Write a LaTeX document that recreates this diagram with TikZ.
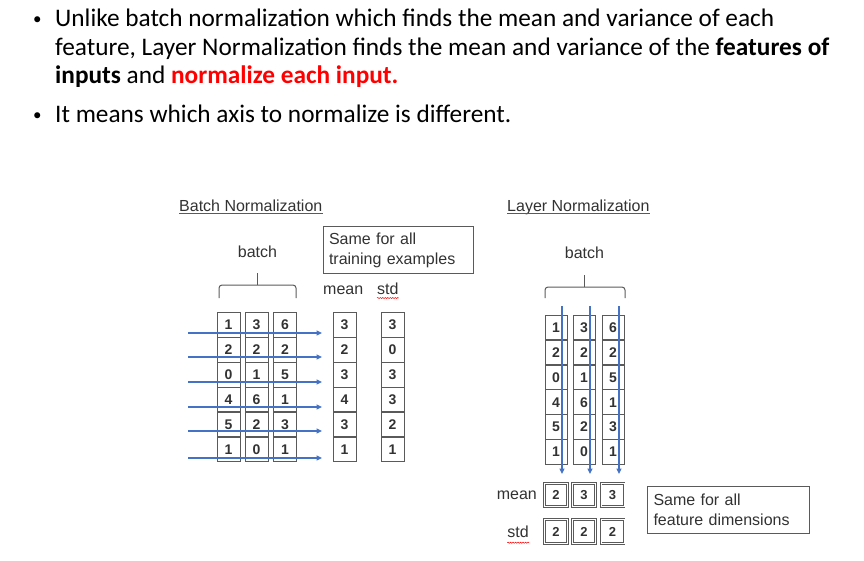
\documentclass[tikz,border=0pt]{standalone}
\usepackage{fontspec}
\setmainfont{Liberation Sans}
\newfontfamily\calib{Carlito}
\usetikzlibrary{arrows.meta,decorations.pathmorphing}
\definecolor{arrowblue}{RGB}{68,114,196}
\definecolor{txtgray}{RGB}{50,50,50}
\definecolor{boxgray}{RGB}{90,90,90}
\tikzset{
  bul/.style={anchor=base west,inner sep=0pt,font=\calib\fontsize{25.3}{30}\selectfont,text=black},
  dot/.style={anchor=base west,inner sep=0pt,font=\calib\fontsize{17}{20}\selectfont,text=black},
  lbl/.style={inner sep=0pt,font=\fontsize{16}{19}\selectfont,text=txtgray},
  cell/.style={draw=boxgray,line width=1pt,minimum width=23pt,minimum height=24.5pt,inner sep=0pt,font=\bfseries\fontsize{14}{16}\selectfont,text=txtgray},
  sbox/.style={draw=boxgray,line width=1pt,minimum width=23pt,minimum height=23.5pt,inner sep=0pt,font=\bfseries\fontsize{13}{15}\selectfont,text=txtgray,double distance=0.6pt},
  note/.style={draw=boxgray,line width=1pt,align=left,inner sep=0pt,anchor=north west,font=\fontsize{16}{20}\selectfont,text=txtgray},
  flow/.style={draw=arrowblue,line width=2pt,-{Triangle[length=5.5pt,width=5pt]}},
  brace/.style={draw=boxgray,line width=1pt,rounded corners=3pt},
  spell/.style={draw=red,line width=0.5pt,decorate,decoration={snake,amplitude=0.6pt,segment length=2.5pt}}
}
\begin{document}
\begin{tikzpicture}[x=1pt,y=-1pt]
\useasboundingbox (0,0) rectangle (864,560);
% bullets
\node[dot] (b1) at (33,24) {•};
\node[bul] (l1) at (55,26) {Unlike batch normalization which finds the mean and variance of each};
\node[bul] (l2) at (55,55) {feature, Layer Normalization finds the mean and variance of the \textbf{features of}};
\node[bul] (l3) at (55,83) {\textbf{inputs} and \textcolor{red}{\textbf{normalize each input.}}};
\node[dot] (b2) at (33,120) {•};
\node[bul] (l4) at (55,122) {It means which axis to normalize is different.};

% ---------- Batch Normalization ----------
\node[lbl,anchor=base west] (bnt) at (179,211) {Batch Normalization};
\draw[boxgray,line width=0.8pt] ([yshift=-2.5pt]bnt.base west) -- ([yshift=-2.5pt]bnt.base east);
\node[lbl] (bb) at (257.5,252) {batch};
\draw[brace] (219,298) -- (219,285) -- (257.5,285) -- (296,285) -- (296,298);
\draw[boxgray,line width=1pt] (257.5,285) -- (257.5,273);
\node[note,minimum width=150pt,minimum height=47pt,text width=138pt,inner xsep=6pt] (n1) at (322.5,226) {Same for all\\training examples};
\node[lbl,anchor=base west] (mn1) at (323,294) {mean};
\node[lbl,anchor=base west] (sd1) at (377,294) {std};
\draw[spell] ([yshift=-4pt]sd1.base west) -- ([yshift=-4pt]sd1.base east);

\foreach \r/\a/\b/\c/\m/\s [count=\i] in {1/1/3/6/3/3, 2/2/2/2/2/0, 3/0/1/5/3/3, 4/4/6/1/4/3, 5/5/2/3/3/2, 6/1/0/1/1/1} {
  \pgfmathsetmacro{\yy}{325+(\r-1)*24.9}
  \node[cell] (ba\r) at (228.5,\yy) {\a};
  \node[cell] (bb\r) at (256.5,\yy) {\b};
  \node[cell] (bc\r) at (285,\yy) {\c};
  \node[cell] (bm\r) at (344.5,\yy) {\m};
  \node[cell] (bs\r) at (392.5,\yy) {\s};
}
\foreach \r/\yy in {1/333,2/357,3/382,4/407,5/431,6/458} {
  \coordinate (hs\r) at (188,\yy);
  \coordinate (he\r) at (322,\yy);
  \draw[flow] (hs\r) -- (he\r);
}

% ---------- Layer Normalization ----------
\node[lbl,anchor=base west] (lnt) at (507,211) {Layer Normalization};
\draw[boxgray,line width=0.8pt] ([yshift=-2.5pt]lnt.base west) -- ([yshift=-2.5pt]lnt.base east);
\node[lbl] (lb) at (584.5,253) {batch};
\draw[brace] (545,298) -- (545,287) -- (584.5,287) -- (625,287) -- (625,298);
\draw[boxgray,line width=1pt] (584.5,287) -- (584.5,275);

\foreach \r/\a/\b/\c [count=\i] in {1/1/3/6, 2/2/2/2, 3/0/1/5, 4/4/6/1, 5/5/2/3, 6/1/0/1} {
  \pgfmathsetmacro{\yy}{327.5+(\r-1)*24.9}
  \node[cell,minimum width=22pt] (la\r) at (556,\yy) {\a};
  \node[cell,minimum width=22pt] (lb\r) at (584,\yy) {\b};
  \node[cell,minimum width=22pt] (lc\r) at (613,\yy) {\c};
}
\coordinate (vs1) at (562,306); \coordinate (ve1) at (562,474);
\coordinate (vs2) at (590,306); \coordinate (ve2) at (590,474);
\coordinate (vs3) at (619,306); \coordinate (ve3) at (619,474);
\foreach \k in {1,2,3} { \draw[flow] (vs\k) -- (ve\k); }

\node[sbox] (m1) at (556,495) {2};
\node[sbox] (m2) at (584,495) {3};
\node[sbox] (m3) at (612.5,495) {3};
\node[sbox] (s1) at (556,531.5) {2};
\node[sbox] (s2) at (584,531.5) {2};
\node[sbox] (s3) at (612.5,531.5) {2};
\node[lbl,anchor=east] (mn2) at (537,495) {mean};
\node[lbl,anchor=east] (sd2) at (529,532) {std};
\draw[spell] ([yshift=-5pt]sd2.base west) -- ([yshift=-5pt]sd2.base east);
\node[note,minimum width=162pt,minimum height=47pt,text width=150pt,inner xsep=6pt] (n2) at (647,486) {Same for all\\feature dimensions};
\end{tikzpicture}
\end{document}
